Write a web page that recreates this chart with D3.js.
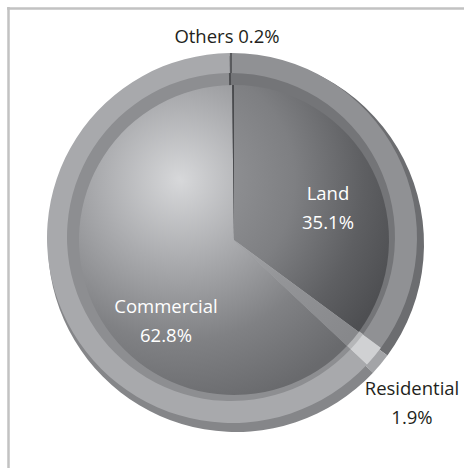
<!DOCTYPE html>
<html>
<head>
<meta charset="utf-8">
<script src="https://cdn.jsdelivr.net/npm/d3@7/dist/d3.min.js"></script>
<style>
  html, body { margin: 0; padding: 0; background: #fff; }
  svg { display: block; }
  text { font-family: "Open Sans", "Noto Sans", sans-serif; }
</style>
</head>
<body>
<svg id="chart" width="464" height="468"></svg>
<script>
// Share of total, clockwise from 12 o'clock
const categories = ["Land", "Residential", "Commercial", "Others"];
const shares = [35.1, 1.9, 62.8, 0.2];
const shareLabels = ["35.1%", "1.9%", "62.8%", "0.2%"];

const svg = d3.select("#chart");
const W = 464, H = 468;

// frame lines (top and left)
svg.append("line").attr("x1", 7).attr("y1", 8.5).attr("x2", W).attr("y2", 8.5)
  .attr("stroke", "#c2c2c2").attr("stroke-width", 2.5);
svg.append("line").attr("x1", 8.5).attr("y1", 7).attr("x2", 8.5).attr("y2", H)
  .attr("stroke", "#c2c2c2").attr("stroke-width", 2.5);

const data = categories.map((c, i) => ({ category: c, value: shares[i], label: shareLabels[i] }));
const pie = d3.pie().value(d => d.value).sort(null);
const arcs = pie(data);

// Shading per disc layer
const palette = {
  side:  { Land: "#6c6d70", Residential: "#a3a4a7", Commercial: "#858689", Others: "#555659" },
  rim:   { Land: "#909194", Residential: "#d0d1d3", Commercial: "#a8a9ac", Others: "#5a5b5e" },
  wall:  { Land: "#747578", Residential: "#b5b6b8", Commercial: "#8d8e91", Others: "#4e4f52" }
};

const face = { cx: 234, cy: 240, r: 155 };
const highlight = { x: 180, y: 180 };

// Radial highlight for the face of the pie (coordinates relative to the face centre)
const defs = svg.append("defs");
const faceStops = {
  Commercial:  [["0", "#d7d8da"], ["0.35", "#abacaf"], ["0.7", "#808184"], ["1", "#696a6d"]],
  Land:        [["0", "#9a9b9e"], ["0.5", "#7e7f82"], ["0.8", "#5e5f62"], ["1", "#4e4f52"]],
  Residential: [["0", "#bdbec1"], ["0.6", "#949598"], ["1", "#87888b"]],
  Others:      [["0", "#4a4b4e"], ["1", "#4a4b4e"]]
};
Object.entries(faceStops).forEach(([k, stops]) => {
  const g = defs.append("radialGradient").attr("id", "face-" + k)
    .attr("gradientUnits", "userSpaceOnUse")
    .attr("cx", highlight.x - face.cx).attr("cy", highlight.y - face.cy).attr("r", 230);
  stops.forEach(([o, c]) => g.append("stop").attr("offset", o).attr("stop-color", c));
});

const layers = [
  { name: "side", cx: 236, cy: 244, r: 188, fill: d => palette.side[d.data.category] },
  { name: "rim",  cx: 232, cy: 238, r: 185, fill: d => palette.rim[d.data.category] },
  { name: "wall", cx: 231, cy: 237, r: 164, fill: d => palette.wall[d.data.category] },
  { name: "face", cx: face.cx, cy: face.cy, r: face.r, fill: d => "url(#face-" + d.data.category + ")" }
];

layers.forEach(L => {
  const arc = d3.arc().innerRadius(0).outerRadius(L.r);
  svg.append("g").attr("class", "layer-" + L.name)
    .attr("transform", `translate(${L.cx},${L.cy})`)
    .selectAll("path").data(arcs).join("path")
    .attr("d", arc)
    .attr("fill", L.fill);
});

// Labels
const placement = {
  Land:        { x: 328, y: 200, color: "#ffffff", inline: false },
  Commercial:  { x: 166, y: 313, color: "#ffffff", inline: false },
  Residential: { x: 412, y: 395, color: "#231f20", inline: false },
  Others:      { x: 227, y: 43,  color: "#231f20", inline: true }
};
const lab = svg.append("g").attr("class", "labels");
data.forEach(d => {
  const p = placement[d.category];
  const t = lab.append("text")
    .attr("x", p.x).attr("y", p.y)
    .attr("text-anchor", "middle")
    .attr("font-size", 18.5)
    .attr("fill", p.color);
  if (p.inline) {
    t.text(d.category + " " + d.label);
  } else {
    t.append("tspan").attr("x", p.x).text(d.category);
    t.append("tspan").attr("x", p.x).attr("dy", 29).text(d.label);
  }
});
</script>
</body>
</html>
